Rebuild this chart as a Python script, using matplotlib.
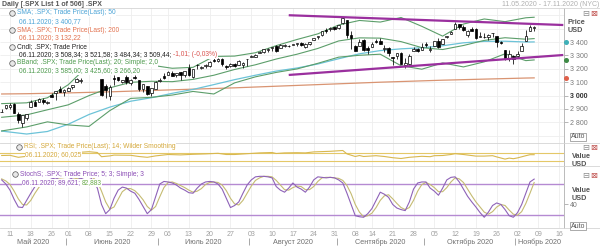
import matplotlib
matplotlib.use('Agg')
import matplotlib.pyplot as plt
from matplotlib.lines import Line2D
import numpy as np
import pandas as pd

# ---------------- data ----------------
first_day, last_day = '2020-05-07', '2020-11-17'
holidays = ['2020-05-25', '2020-07-03', '2020-09-07']

open_ = [2878.26, 2908.83, 2915.46, 2939.50, 2865.86, 2794.54, 2829.95,
         2913.86, 2948.59, 2953.63, 2969.95, 2948.05,
         3004.08, 3015.65, 3046.61, 3025.17,
         3031.00, 3064.78, 3098.90, 3111.56, 3163.84,
         3199.92, 3213.32, 3213.42, 3123.53, 3071.04,
         2993.76, 3131.00, 3136.13, 3101.64, 3140.29,
         3094.42, 3138.70, 3114.40, 3046.60, 3073.20,
         3018.59, 3050.20, 3105.92, 3143.64,
         3155.29, 3166.44, 3153.07, 3176.17, 3152.47,
         3205.08, 3141.11, 3225.98, 3208.36, 3224.21,
         3224.29, 3268.52, 3254.86, 3271.64, 3218.58,
         3219.84, 3234.27, 3227.22, 3231.76, 3270.45,
         3288.26, 3289.92, 3317.37, 3323.17, 3340.05,
         3356.04, 3370.34, 3355.46, 3372.95, 3368.66,
         3380.86, 3387.04, 3392.51, 3360.48, 3386.01,
         3418.09, 3435.95, 3449.97, 3485.14, 3494.69,
         3509.73, 3507.44, 3543.76, 3564.74, 3453.60,
         3371.88, 3369.82, 3412.56, 3352.70,
         3363.56, 3407.73, 3411.23, 3346.86, 3357.38,
         3285.57, 3295.75, 3320.11, 3226.14, 3236.66,
         3333.90, 3350.92, 3341.21, 3385.87, 3338.94,
         3367.27, 3408.74, 3384.56, 3434.28, 3459.67,
         3500.02, 3534.01, 3515.47, 3453.72, 3493.50,
         3493.66, 3439.38, 3439.91, 3438.50, 3464.90,
         3441.42, 3403.15, 3342.48, 3277.17, 3293.59,
         3296.20, 3336.25, 3406.46, 3485.74, 3508.34]
high = [2901.92, 2932.16, 2944.25, 2945.82, 2874.14, 2852.80, 2865.01,
        2968.09, 2964.21, 2980.29, 2978.50, 2956.76,
        3021.72, 3036.25, 3068.67, 3049.17,
        3062.18, 3081.07, 3130.94, 3128.91, 3211.72,
        3233.13, 3222.71, 3223.27, 3123.53, 3088.42,
        3079.76, 3153.45, 3141.16, 3120.00, 3155.53,
        3120.92, 3154.90, 3115.01, 3086.25, 3073.73,
        3053.89, 3111.51, 3128.44, 3165.81,
        3182.59, 3184.15, 3171.80, 3179.78, 3186.82,
        3235.32, 3200.95, 3238.28, 3220.39, 3233.52,
        3258.61, 3277.29, 3279.32, 3279.99, 3227.26,
        3241.43, 3243.72, 3264.74, 3250.92, 3272.17,
        3302.73, 3306.84, 3330.77, 3351.03, 3352.54,
        3363.29, 3381.01, 3387.89, 3387.24, 3378.51,
        3387.59, 3395.06, 3399.54, 3390.80, 3399.96,
        3432.09, 3444.21, 3481.07, 3501.38, 3509.23,
        3514.77, 3528.03, 3588.11, 3564.85, 3479.15,
        3379.97, 3424.77, 3425.55, 3368.95,
        3402.93, 3419.48, 3428.92, 3375.17, 3362.27,
        3285.57, 3320.31, 3323.35, 3278.70, 3306.88,
        3360.74, 3357.92, 3393.56, 3397.18, 3369.10,
        3409.57, 3431.56, 3426.26, 3447.28, 3482.34,
        3549.85, 3534.01, 3527.94, 3489.08, 3515.76,
        3502.42, 3476.93, 3464.86, 3460.53, 3466.46,
        3441.42, 3409.51, 3342.48, 3341.05, 3304.93,
        3330.14, 3389.49, 3486.25, 3529.05, 3521.58]
low = [2876.48, 2902.88, 2903.44, 2869.59, 2793.15, 2766.64, 2816.78,
       2913.86, 2922.35, 2953.63, 2938.57, 2933.59,
       2988.17, 2969.75, 3023.40, 2998.61,
       3031.00, 3051.64, 3098.90, 3090.41, 3163.84,
       3196.00, 3193.11, 3181.49, 2999.49, 2984.47,
       2965.66, 3076.06, 3108.03, 3093.51, 3083.11,
       3079.39, 3127.12, 3032.13, 3024.01, 3004.63,
       2999.74, 3047.83, 3101.17, 3124.52,
       3155.29, 3142.93, 3136.53, 3115.70, 3136.22,
       3149.43, 3127.66, 3200.76, 3198.59, 3205.65,
       3215.16, 3247.77, 3253.10, 3222.66, 3200.05,
       3214.25, 3216.17, 3227.22, 3204.13, 3220.26,
       3284.53, 3286.37, 3317.37, 3318.14, 3328.72,
       3335.44, 3326.44, 3355.46, 3363.35, 3361.64,
       3379.22, 3370.15, 3369.66, 3354.69, 3379.31,
       3413.13, 3425.84, 3444.15, 3468.35, 3484.32,
       3493.25, 3494.60, 3535.23, 3427.41, 3349.63,
       3329.27, 3366.84, 3329.25, 3310.47,
       3363.56, 3389.25, 3384.45, 3328.82, 3292.40,
       3229.10, 3270.95, 3232.57, 3209.45, 3228.44,
       3332.91, 3327.54, 3340.47, 3361.39, 3323.69,
       3367.27, 3354.54, 3384.56, 3428.15, 3458.07,
       3499.61, 3500.86, 3480.55, 3440.89, 3480.45,
       3419.93, 3435.65, 3433.06, 3415.34, 3440.45,
       3364.86, 3388.71, 3268.89, 3259.82, 3233.94,
       3279.74, 3336.25, 3405.17, 3485.74, 3484.34]
close = [2881.19, 2929.80, 2930.32, 2870.12, 2820.00, 2852.50, 2863.70,
         2953.91, 2922.94, 2971.61, 2948.51, 2955.45,
         2991.77, 3036.13, 3029.73, 3044.31,
         3055.73, 3080.82, 3122.87, 3112.35, 3193.93,
         3232.39, 3207.18, 3190.14, 3002.10, 3041.31,
         3066.59, 3124.74, 3113.49, 3115.34, 3097.74,
         3117.86, 3131.29, 3050.33, 3083.76, 3009.05,
         3053.24, 3100.29, 3115.86, 3130.01,
         3179.72, 3145.32, 3169.94, 3152.05, 3185.04,
         3155.22, 3197.52, 3226.56, 3215.57, 3224.73,
         3251.84, 3257.30, 3276.02, 3235.66, 3215.63,
         3239.41, 3218.44, 3258.44, 3246.22, 3271.12,
         3294.61, 3306.51, 3327.77, 3349.16, 3351.28,
         3360.47, 3333.69, 3380.35, 3373.43, 3372.85,
         3381.99, 3389.78, 3374.85, 3385.51, 3397.16,
         3431.28, 3443.62, 3478.73, 3484.55, 3508.01,
         3500.31, 3526.65, 3580.84, 3455.06, 3426.96,
         3331.84, 3398.96, 3339.19, 3340.97,
         3383.54, 3401.20, 3385.49, 3357.01, 3319.47,
         3281.06, 3315.57, 3236.92, 3246.59, 3298.46,
         3351.60, 3335.47, 3363.00, 3380.80, 3348.42,
         3408.63, 3360.97, 3419.44, 3446.83, 3477.14,
         3534.22, 3511.93, 3488.67, 3483.34, 3483.81,
         3426.92, 3443.12, 3435.56, 3453.49, 3465.39,
         3400.97, 3390.68, 3271.03, 3310.11, 3269.96,
         3310.24, 3369.16, 3443.44, 3510.45, 3509.44]

samp_dates = ['2020-05-07', '2020-05-15', '2020-05-22', '2020-06-01', '2020-06-08',
              '2020-06-15', '2020-06-22', '2020-06-29', '2020-07-07', '2020-07-14',
              '2020-07-21', '2020-07-28', '2020-08-04', '2020-08-11', '2020-08-18',
              '2020-08-25', '2020-09-01', '2020-09-09', '2020-09-16', '2020-09-23',
              '2020-09-30', '2020-10-07', '2020-10-14', '2020-10-21', '2020-10-28',
              '2020-11-04', '2020-11-06']
sma50 = [2735, 2713, 2732, 2786, 2859, 2914, 2958, 2984, 3017, 3046, 3082, 3119, 3152,
         3183, 3206, 3236, 3275, 3312, 3336, 3349, 3357, 3372, 3394, 3405, 3406, 3400, 3400.77]
sma200 = [3012, 3014, 3017, 3020, 3024, 3028, 3033, 3038, 3043, 3048, 3053, 3058, 3064,
          3070, 3076, 3082, 3088, 3094, 3100, 3105, 3110, 3115, 3119, 3123, 3127, 3131, 3132.22]
bb_mid = [2838, 2856, 2894, 2931, 3000, 3058, 3099, 3107, 3104, 3121, 3152, 3195, 3230,
          3273, 3309, 3352, 3408, 3431, 3429, 3403, 3358, 3344, 3374, 3412, 3432, 3421, 3425.60]
bb_up = [2940, 2946, 2984, 3081, 3230, 3228, 3219, 3227, 3204, 3211, 3292, 3295, 3320,
         3373, 3419, 3461, 3527, 3561, 3549, 3583, 3517, 3444, 3534, 3572, 3552, 3581, 3585.00]
bb_lo = [2736, 2766, 2804, 2781, 2770, 2888, 2979, 2987, 3004, 3031, 3012, 3095, 3140,
         3173, 3199, 3241, 3287, 3301, 3309, 3223, 3197, 3244, 3214, 3252, 3312, 3261, 3266.20]

rsi_dates = ['2020-05-07', '2020-05-11', '2020-05-13', '2020-05-15', '2020-05-18', '2020-05-22',
             '2020-05-27', '2020-06-01', '2020-06-03', '2020-06-08', '2020-06-10', '2020-06-11',
             '2020-06-15', '2020-06-16', '2020-06-22', '2020-06-24', '2020-06-26', '2020-06-30',
             '2020-07-06', '2020-07-09', '2020-07-14', '2020-07-17', '2020-07-22', '2020-07-24',
             '2020-07-28', '2020-07-31', '2020-08-05', '2020-08-10', '2020-08-11', '2020-08-13',
             '2020-08-18', '2020-08-20', '2020-08-24', '2020-08-28', '2020-09-02', '2020-09-03',
             '2020-09-08', '2020-09-09', '2020-09-10', '2020-09-15', '2020-09-17', '2020-09-21',
             '2020-09-23', '2020-09-25', '2020-09-30', '2020-10-02', '2020-10-05', '2020-10-07',
             '2020-10-09', '2020-10-12', '2020-10-14', '2020-10-19', '2020-10-21', '2020-10-23',
             '2020-10-26', '2020-10-28', '2020-10-29', '2020-10-30', '2020-11-02', '2020-11-04',
             '2020-11-05', '2020-11-06']
rsi_vals = [56, 57, 47, 52, 60, 61, 65, 67, 71, 75, 71, 50, 54, 58, 57, 51, 47, 54, 61, 59,
            62, 64, 67, 61, 61, 65, 69, 71, 66, 69, 70, 69, 74, 77, 81, 64, 51, 56, 51, 55,
            51, 45, 41, 47, 52, 50, 55, 56, 61, 65, 61, 53, 53, 55, 49, 38, 43, 40, 44, 55,
            60, 60.025]

stoch_k = [88, 80, 68, 50, 35, 34, 48, 62, 75, 85, 84, 86,
           90, 92, 88, 86, 88, 92, 94, 90, 94, 96,
           86, 72, 40, 22, 30, 52, 68, 74, 72, 66,
           62, 50, 36, 22, 30, 55, 80, 85, 84, 82,
           78, 72, 68, 63, 62, 72, 80, 84, 85, 84,
           80, 70, 52, 34, 38, 45, 62, 78, 88, 94,
           95, 95, 94, 92, 75, 68, 64, 72, 82, 74,
           70, 64, 74, 88, 94, 93, 92, 93, 92, 88,
           82, 62, 40, 18, 16, 15, 22, 32, 48, 64,
           60, 54, 40, 33, 30, 28, 45, 70, 82, 84,
           84, 72, 66, 58, 72, 88, 93, 94, 84, 70,
           56, 45, 35, 24, 15, 25, 38, 43, 40, 30,
           18, 15, 24, 40, 62, 84, 89.621]
stoch_d = [90, 86, 79, 66, 51, 40, 39, 48, 62, 74, 81, 85,
           87, 89, 90, 89, 87, 89, 91, 92, 93, 93,
           92, 85, 66, 45, 31, 35, 50, 65, 71, 71,
           67, 59, 49, 36, 29, 36, 55, 73, 83, 84,
           81, 77, 73, 68, 64, 66, 71, 79, 83, 84,
           83, 78, 67, 52, 41, 39, 48, 62, 76, 87,
           92, 95, 95, 94, 87, 78, 69, 68, 73, 76,
           75, 69, 69, 75, 85, 92, 93, 93, 92, 91,
           87, 77, 61, 40, 25, 16, 18, 23, 34, 48,
           57, 59, 51, 42, 34, 30, 34, 48, 66, 79,
           83, 79, 73, 65, 65, 73, 84, 92, 90, 83,
           70, 57, 45, 35, 25, 21, 26, 35, 40, 38,
           29, 21, 19, 26, 42, 62, 82.883]

trend_dates = ['2020-08-14', '2020-11-17']
trend_upper = [3600, 3527]
trend_lower = [3154, 3303]

tick_dates = ['2020-05-11', '2020-05-18', '2020-05-26', '2020-06-01', '2020-06-08', '2020-06-15',
              '2020-06-22', '2020-06-29', '2020-07-06', '2020-07-13', '2020-07-20', '2020-07-27',
              '2020-08-03', '2020-08-10', '2020-08-17', '2020-08-24', '2020-08-31', '2020-09-08',
              '2020-09-14', '2020-09-21', '2020-09-28', '2020-10-05', '2020-10-12', '2020-10-19',
              '2020-10-26', '2020-11-02', '2020-11-09', '2020-11-16']
month_names = ['Май 2020', 'Июнь 2020', 'Июль 2020', 'Август 2020',
               'Сентябрь 2020', 'Октябрь 2020', 'Ноябрь 2020']
price_ticks = [2800, 2900, 3000, 3100, 3200, 3300, 3400]

# ---------------- figure ----------------
W, H = 600, 246
plt.rcParams['font.family'] = ['Liberation Sans', 'DejaVu Sans']
fig = plt.figure(figsize=(W / 100, H / 100), dpi=100)
fig.patch.set_facecolor('white')

days = pd.bdate_range(first_day, last_day)
days = days[~days.isin(pd.to_datetime(holidays))]
pos = {d.strftime('%Y-%m-%d'): k for k, d in enumerate(days)}


def X(ds):
    return np.array([pos[d] for d in ds], float)


k0 = pos['2020-05-11']
PX0, DX, PXR = 10.0, 4.16, 564.0
xl = (k0 - PX0 / DX, k0 + (PXR - PX0) / DX)


def axpx(x0, y0, x1, y1):
    return fig.add_axes([x0 / W, 1 - y1 / H, (x1 - x0) / W, (y1 - y0) / H])


def fx(x):
    return x / W


def fy(y):
    return 1 - y / H


main = axpx(0, 8, PXR, 143)
rsi = axpx(0, 143, PXR, 166)
sto = axpx(0, 166, PXR, 228)
dax = axpx(0, 228, PXR, 246)

main.set_ylim(2646, 3654)
rsi.set_ylim(3.5, 118.5)
sto.set_ylim(-6, 115.2)
dax.set_ylim(246, 228)

tx = X(tick_dates)
for ax in (main, rsi, sto, dax):
    ax.set_xlim(xl)
    ax.set_facecolor('white')
    ax.set_xticks([])
    for s in ('top', 'bottom', 'left'):
        ax.spines[s].set_visible(False)
    ax.spines['right'].set_color('#b0b0b0')
    ax.spines['right'].set_linewidth(0.6)
dax.set_yticks([])
dax.spines['right'].set_visible(False)

for ax in (main, rsi, sto):
    lo, hi = ax.get_ylim()
    ax.vlines(tx, lo, hi, color='#eeeeee', lw=0.6, zorder=0)
main.hlines(np.arange(2700, 3700, 100), *xl, color='#eeeeee', lw=0.6, zorder=0)

# candles
o = np.array(open_); h = np.array(high); l = np.array(low); c = np.array(close)
xc = np.arange(len(c))
up = c >= o
main.vlines(xc, l, h, color='black', lw=0.55, zorder=4)
bot = np.minimum(o, c)
bh = np.maximum(np.abs(c - o), 2.0)
main.bar(xc[up], bh[up], bottom=bot[up], width=0.64, facecolor='white',
         edgecolor='black', linewidth=0.5, zorder=5)
main.bar(xc[~up], bh[~up], bottom=bot[~up], width=0.64, facecolor='black',
         edgecolor='black', linewidth=0.5, zorder=5)

xs = X(samp_dates)
main.plot(xs, sma200, color='#d99472', lw=0.9, zorder=2)
main.plot(xs, sma50, color='#6cc3d8', lw=0.9, zorder=2)
for arr in (bb_up, bb_mid, bb_lo):
    main.plot(xs, arr, color='#5c9e6a', lw=0.8, zorder=2)
xt = X(trend_dates)
main.plot(xt, trend_upper, color='#9a2f9e', lw=1.6, zorder=6, solid_capstyle='butt')
main.plot(xt, trend_lower, color='#9a2f9e', lw=1.6, zorder=6, solid_capstyle='butt')

# right axis markers
mk = xl[1] + 0.5
main.plot([mk], [sma50[-1]], 'o', color='#3fb0b8', ms=2.6, clip_on=False, zorder=7)
main.plot([mk], [bb_lo[-1]], 'o', color='#3d8a45', ms=2.6, clip_on=False, zorder=7)
main.plot([mk], [sma200[-1]], 'o', color='#e0604a', ms=2.6, clip_on=False, zorder=7)

main.yaxis.tick_right()
main.set_yticks(price_ticks)
main.set_yticklabels([f'{v:,}'.replace(',', ' ') for v in price_ticks])
main.tick_params(axis='y', length=3, width=0.5, color='#999999', labelsize=5,
                 labelcolor='#7a7a7a', pad=1.5)
for t, v in zip(main.get_yticklabels(), price_ticks):
    if v == 3000:
        t.set_fontweight('bold')
        t.set_color('#333333')

# RSI
rsi.axhline(70, color='#e4c868', lw=0.8, zorder=1)
rsi.axhline(30, color='#e4c868', lw=0.8, zorder=1)
rsi.plot(X(rsi_dates), rsi_vals, color='#d8b850', lw=0.8, zorder=2)
rsi.set_yticks([])

# Stochastic
sto.axhline(80, color='#b58ad2', lw=1.0, zorder=1)
sto.axhline(20, color='#b58ad2', lw=1.0, zorder=1)
xk = np.arange(len(stoch_k))
sto.plot(xk, stoch_d, color='#c5bb72', lw=0.8, zorder=2)
sto.plot(xk, stoch_k, color='#8e62b8', lw=0.8, zorder=3)
sto.yaxis.tick_right()
sto.set_yticks([40])
sto.set_yticklabels(['40'])
sto.tick_params(axis='y', length=3, width=0.5, color='#999999', labelsize=5,
                labelcolor='#7a7a7a', pad=1.5)

# date strip
for x, d in zip(tx, tick_dates):
    dax.text(x, 234, d[8:10], ha='center', va='center', fontsize=5, color='#a0a0a0')
months = sorted(set((d.year, d.month) for d in days))
bounds = []
for (yy, mm) in months:
    ks = [k for k, d in enumerate(days) if d.year == yy and d.month == mm]
    bounds.append((ks[0] - 0.5, ks[-1] + 0.5))
for (b0, b1), name in zip(bounds, month_names):
    a0, a1 = max(b0, xl[0]), min(b1, xl[1])
    dax.text((a0 + a1) / 2, 242, name, ha='center', va='center', fontsize=5.2, color='#707070')
    if b0 > xl[0]:
        dax.vlines(b0, 237.5, 244.5, color='#999999', lw=0.6)

# separators
for yy in (8, 143, 166, 228):
    fig.add_artist(Line2D([0, 1], [fy(yy), fy(yy)], transform=fig.transFigure,
                          color='#d4d4d4', lw=0.6))

# header
fig.text(fx(2), fy(4), 'Daily [.SPX List 1 of 506] .SPX', fontsize=5, color='#555555',
         fontweight='bold', va='center', ha='left')
fig.text(fx(599), fy(4), '11.05.2020 - 17.11.2020 (NYC)', fontsize=5, color='#b0b0b0',
         va='center', ha='right')

renderer = fig.canvas.get_renderer()
BB = dict(facecolor='white', edgecolor='none', pad=0.3)


def icon(x, y):
    fig.add_artist(Line2D([fx(x)], [fy(y)], transform=fig.transFigure, marker='o', ms=4,
                          mfc='#e8e8e8', mec='#555555', mew=0.5))


def seg_text(x, y, parts, size=4.8):
    for s, col in parts:
        t = fig.text(fx(x), fy(y), s, fontsize=size, color=col, va='center', ha='left',
                     bbox=BB, zorder=10)
        x = t.get_window_extent(renderer).x1


SMA50C, SMA200C, BBC = '#4aa3d6', '#e2714e', '#4d9a4d'
icon(12, 13); seg_text(17, 13, [('SMA; .SPX; Trade Price(Last); 50', SMA50C)])
seg_text(19, 22, [('06.11.2020; 3 400,77', SMA50C)])
icon(12, 30); seg_text(17, 30, [('SMA; .SPX; Trade Price(Last); 200', SMA200C)])
seg_text(19, 38, [('06.11.2020; 3 132,22', SMA200C)])
icon(12, 47); seg_text(17, 47, [('Cndl; .SPX; Trade Price', '#222222')])
seg_text(19, 55, [('06.11.2020; 3 508,34; 3 521,58; 3 484,34; 3 509,44; ', '#222222'),
                  ('-1,01; (-0,03%)', '#d9534f')])
icon(12, 63); seg_text(17, 63, [('BBand; .SPX; Trade Price(Last); 20; Simple; 2,0', BBC)])
seg_text(19, 71, [('06.11.2020; 3 585,00; 3 425,60; 3 266,20', BBC)])

RSIC = '#d4a83a'
icon(19, 146.5); seg_text(24, 146.5, [('RSI; .SPX; Trade Price(Last); 14; Wilder Smoothing', RSIC)])
seg_text(25, 155, [('06.11.2020; 60,025', RSIC)])
STC = '#8a4cb5'
icon(15, 174); seg_text(20, 174, [('StochS; .SPX; Trade Price; 5; 3; Simple; 3', STC)])
seg_text(22, 183, [('06.11.2020; 89,621; ', STC), ('82,883', '#6aaa4a')])

# right side labels
for yy in (14, 147, 175):
    fig.text(fx(586), fy(yy), '⊟', fontsize=6, color='#8a8a8a', ha='center', va='center',
             family=['DejaVu Sans'])
    fig.text(fx(594), fy(yy), '⊠', fontsize=6, color='#c0504d', ha='center', va='center',
             family=['DejaVu Sans'])
fig.text(fx(568), fy(23), 'Price', fontsize=5.2, fontweight='bold', color='#555555', va='center')
fig.text(fx(568), fy(31), 'USD', fontsize=5.2, fontweight='bold', color='#555555', va='center')
fig.text(fx(572), fy(157), 'Value', fontsize=5.2, fontweight='bold', color='#555555', va='center')
fig.text(fx(572), fy(164), 'USD', fontsize=5.2, fontweight='bold', color='#555555', va='center')
fig.text(fx(572), fy(191), 'Value', fontsize=5.2, fontweight='bold', color='#555555', va='center')
fig.text(fx(572), fy(198), 'USD', fontsize=5.2, fontweight='bold', color='#555555', va='center')
for yy in (137, 226):
    fig.text(fx(571), fy(yy), 'Auto', fontsize=5, color='#555555', va='center',
             bbox=dict(facecolor='white', edgecolor='#888888', pad=0.6, lw=0.5))

fig.savefig('out.png', dpi=100, facecolor='white')
